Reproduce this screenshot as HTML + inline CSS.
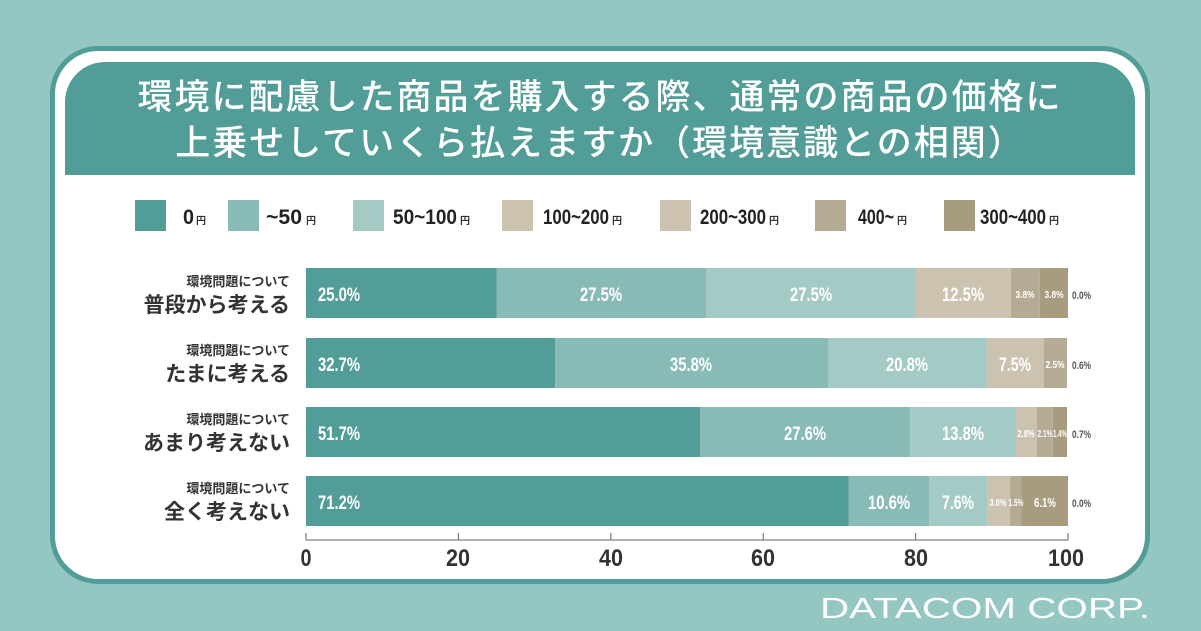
<!DOCTYPE html>
<html><head><meta charset="utf-8"><style>
html,body{margin:0;padding:0;}
body{width:1201px;height:631px;background:#95c7c2;position:relative;overflow:hidden;font-family:"Liberation Sans","Noto Sans CJK JP",sans-serif;}
.card{position:absolute;left:50px;top:46px;width:1090px;height:528px;background:#fff;border:5px solid #529d97;border-radius:48px;}
.band{position:absolute;left:65px;top:62px;width:1070px;height:113px;background:#529d97;border-radius:40px 40px 0 0;color:#fff;text-align:center;font-size:35px;line-height:46px;padding-top:10px;box-sizing:border-box;font-family:"Noto Sans CJK JP",sans-serif;font-weight:500;letter-spacing:2px;white-space:nowrap;}
svg{position:absolute;left:0;top:0;}
.n{font-family:"Liberation Sans",sans-serif;font-weight:bold;}
.j{font-family:"Noto Sans CJK JP",sans-serif;font-weight:bold;fill:#333;}
</style></head><body>
<div class="card"></div>
<div class="band">環境に配慮した商品を購入する際、通常の商品の価格に<br>上乗せしていくら払えますか（環境意識との相関）</div>
<svg width="1201" height="631" viewBox="0 0 1201 631">
<g class="n" font-size="21" fill="#222" lengthAdjust="spacingAndGlyphs">
<rect x="135" y="200" width="31" height="31" fill="#529d97"/><text x="183" y="224" textLength="11" lengthAdjust="spacingAndGlyphs">0</text><text x="196" y="224" font-size="10" class="j">円</text>
<rect x="228" y="200" width="31" height="31" fill="#88bbb6"/><text x="266" y="224" textLength="36" lengthAdjust="spacingAndGlyphs">~50</text><text x="306" y="224" font-size="10" class="j">円</text>
<rect x="353" y="200" width="31" height="31" fill="#a4cac6"/><text x="393" y="224" textLength="64" lengthAdjust="spacingAndGlyphs">50~100</text><text x="460" y="224" font-size="10" class="j">円</text>
<rect x="502" y="200" width="31" height="31" fill="#cbc3b0"/><text x="543" y="224" textLength="66" lengthAdjust="spacingAndGlyphs">100~200</text><text x="612" y="224" font-size="10" class="j">円</text>
<rect x="660" y="200" width="31" height="31" fill="#cbc3b0"/><text x="700" y="224" textLength="66" lengthAdjust="spacingAndGlyphs">200~300</text><text x="769" y="224" font-size="10" class="j">円</text>
<rect x="815" y="200" width="31" height="31" fill="#b5ab94"/><text x="858" y="224" textLength="36" lengthAdjust="spacingAndGlyphs">400~</text><text x="897" y="224" font-size="10" class="j">円</text>
<rect x="944" y="200" width="31" height="31" fill="#a89c7e"/><text x="980" y="224" textLength="66" lengthAdjust="spacingAndGlyphs">300~400</text><text x="1049" y="224" font-size="10" class="j">円</text>
</g>
<g text-anchor="end">
<text x="290" y="286" font-size="13" class="j">環境問題について</text><text x="290" y="312" font-size="21" class="j">普段から考える</text>
<text x="290" y="355" font-size="13" class="j">環境問題について</text><text x="290" y="381" font-size="21" class="j">たまに考える</text>
<text x="290" y="424" font-size="13" class="j">環境問題について</text><text x="290" y="450" font-size="21" class="j">あまり考えない</text>
<text x="290" y="493" font-size="13" class="j">環境問題について</text><text x="290" y="519" font-size="21" class="j">全く考えない</text>
</g>
<g>
<rect x="306" y="268" width="190.5" height="50" fill="#529d97"/>
<rect x="496.5" y="268" width="209.5" height="50" fill="#88bbb6"/>
<rect x="706" y="268" width="209.5" height="50" fill="#a4cac6"/>
<rect x="915.5" y="268" width="95.3" height="50" fill="#cbc3b0"/>
<rect x="1010.8" y="268" width="29" height="50" fill="#b5ab94"/>
<rect x="1039.8" y="268" width="28.2" height="50" fill="#a89c7e"/>
<rect x="306" y="338" width="249.2" height="50" fill="#529d97"/>
<rect x="555.2" y="338" width="272.8" height="50" fill="#88bbb6"/>
<rect x="828" y="338" width="158.5" height="50" fill="#a4cac6"/>
<rect x="986.5" y="338" width="57.2" height="50" fill="#cbc3b0"/>
<rect x="1043.7" y="338" width="23.3" height="50" fill="#b5ab94"/>
<rect x="306" y="407" width="394" height="50" fill="#529d97"/>
<rect x="700" y="407" width="210.3" height="50" fill="#88bbb6"/>
<rect x="910.3" y="407" width="105.2" height="50" fill="#a4cac6"/>
<rect x="1015.5" y="407" width="21.3" height="50" fill="#cbc3b0"/>
<rect x="1036.8" y="407" width="16" height="50" fill="#b5ab94"/>
<rect x="1052.8" y="407" width="14.2" height="50" fill="#a89c7e"/>
<rect x="306" y="476" width="542.5" height="50" fill="#529d97"/>
<rect x="848.5" y="476" width="80.8" height="50" fill="#88bbb6"/>
<rect x="929.3" y="476" width="57.9" height="50" fill="#a4cac6"/>
<rect x="987.2" y="476" width="22.9" height="50" fill="#cbc3b0"/>
<rect x="1010.1" y="476" width="11.4" height="50" fill="#b5ab94"/>
<rect x="1021.5" y="476" width="46.5" height="50" fill="#a89c7e"/>
</g>
<g class="n" fill="#fff" font-size="19" text-anchor="middle">
<text x="339" y="301" textLength="42" lengthAdjust="spacingAndGlyphs">25.0%</text><text x="601" y="301" textLength="42" lengthAdjust="spacingAndGlyphs">27.5%</text><text x="811" y="301" textLength="42" lengthAdjust="spacingAndGlyphs">27.5%</text><text x="963" y="301" textLength="42" lengthAdjust="spacingAndGlyphs">12.5%</text>
<text x="1025" y="298" font-size="10" textLength="19" lengthAdjust="spacingAndGlyphs">3.8%</text><text x="1054" y="298" font-size="10" textLength="19" lengthAdjust="spacingAndGlyphs">3.8%</text>
<text x="339" y="371" textLength="42" lengthAdjust="spacingAndGlyphs">32.7%</text><text x="691" y="371" textLength="42" lengthAdjust="spacingAndGlyphs">35.8%</text><text x="907" y="371" textLength="42" lengthAdjust="spacingAndGlyphs">20.8%</text><text x="1015" y="371" textLength="32" lengthAdjust="spacingAndGlyphs">7.5%</text>
<text x="1055" y="368" font-size="10" textLength="19" lengthAdjust="spacingAndGlyphs">2.5%</text>
<text x="339" y="440" textLength="42" lengthAdjust="spacingAndGlyphs">51.7%</text><text x="805" y="440" textLength="42" lengthAdjust="spacingAndGlyphs">27.6%</text><text x="963" y="440" textLength="42" lengthAdjust="spacingAndGlyphs">13.8%</text>
<text x="1026" y="437" font-size="10" textLength="17" lengthAdjust="spacingAndGlyphs">2.8%</text><text x="1045" y="437" font-size="10" textLength="15" lengthAdjust="spacingAndGlyphs">2.1%</text><text x="1060" y="437" font-size="10" textLength="14" lengthAdjust="spacingAndGlyphs">1.4%</text>
<text x="339" y="509" textLength="42" lengthAdjust="spacingAndGlyphs">71.2%</text><text x="889" y="509" textLength="42" lengthAdjust="spacingAndGlyphs">10.6%</text><text x="958" y="509" textLength="32" lengthAdjust="spacingAndGlyphs">7.6%</text>
<text x="998" y="506" font-size="10" textLength="17" lengthAdjust="spacingAndGlyphs">3.0%</text><text x="1016" y="506" font-size="10" textLength="15" lengthAdjust="spacingAndGlyphs">1.5%</text><text x="1045" y="507" font-size="13" textLength="22" lengthAdjust="spacingAndGlyphs">6.1%</text>
</g>
<g class="n" fill="#555" font-size="11">
<text x="1072" y="299" textLength="19" lengthAdjust="spacingAndGlyphs">0.0%</text><text x="1072" y="369" textLength="19" lengthAdjust="spacingAndGlyphs">0.6%</text><text x="1072" y="438" textLength="19" lengthAdjust="spacingAndGlyphs">0.7%</text><text x="1072" y="507" textLength="19" lengthAdjust="spacingAndGlyphs">0.0%</text>
</g>
<g stroke="#666" stroke-width="1">
<line x1="306" y1="540" x2="1068" y2="540"/>
<line x1="306" y1="533" x2="306" y2="540"/><line x1="458.4" y1="533" x2="458.4" y2="540"/><line x1="610.8" y1="533" x2="610.8" y2="540"/><line x1="763.2" y1="533" x2="763.2" y2="540"/><line x1="915.6" y1="533" x2="915.6" y2="540"/><line x1="1068" y1="533" x2="1068" y2="540"/>
</g>
<g class="n" fill="#333" font-size="24" text-anchor="middle">
<text x="306" y="566" textLength="11" lengthAdjust="spacingAndGlyphs">0</text><text x="458" y="566" textLength="24" lengthAdjust="spacingAndGlyphs">20</text><text x="611" y="566" textLength="24" lengthAdjust="spacingAndGlyphs">40</text><text x="763" y="566" textLength="24" lengthAdjust="spacingAndGlyphs">60</text><text x="916" y="566" textLength="24" lengthAdjust="spacingAndGlyphs">80</text><text x="1066" y="566" textLength="36" lengthAdjust="spacingAndGlyphs">100</text>
</g>
<text x="820" y="618" fill="#fff" font-size="29" font-family="Liberation Sans, sans-serif" textLength="330" lengthAdjust="spacingAndGlyphs">DATACOM CORP.</text>
</svg>
</body></html>
